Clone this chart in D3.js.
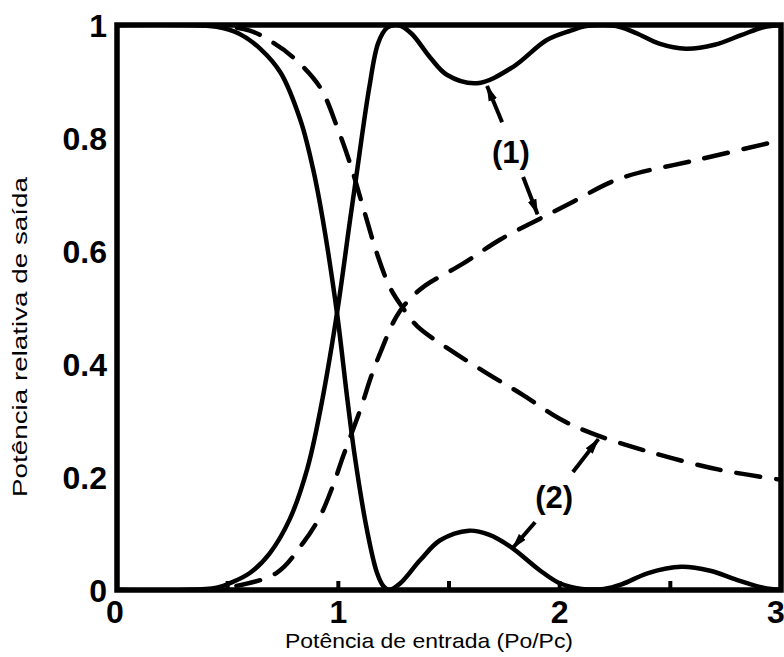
<!DOCTYPE html>
<html>
<head>
<meta charset="utf-8">
<script src="https://cdn.jsdelivr.net/npm/d3@7"></script>
<style>
  html, body { margin: 0; padding: 0; background: #fff; }
  svg { display: block; }
</style>
</head>
<body>
<svg id="chart" width="784" height="657"></svg>
<script>
// Transfer curves of the coupler: output power fraction vs. input power (Po/Pc)
// Solid: case (1); dashed: case (2)
const solidBar = [
  [0, 1], [0.3, 1], [0.45, 0.997], [0.55, 0.985], [0.65, 0.957], [0.74, 0.915],
  [0.83, 0.83], [0.886, 0.745], [0.93, 0.655], [0.994, 0.49], [1.04, 0.34],
  [1.075, 0.235], [1.13, 0.105], [1.175, 0.03], [1.205, 0.006], [1.23, 0.0],
  [1.28, 0.012], [1.37, 0.053], [1.46, 0.088], [1.59, 0.105], [1.68, 0.098],
  [1.78, 0.076], [1.91, 0.035], [2.0, 0.012], [2.1, 0.002], [2.2, 0.002],
  [2.28, 0.01], [2.4, 0.03], [2.55, 0.041], [2.68, 0.034], [2.8, 0.018],
  [2.92, 0.004], [3.0, 0.0]
];
const solidCross = [
  [0, 0], [0.3, 0], [0.45, 0.004], [0.51, 0.012], [0.6, 0.03], [0.69, 0.065],
  [0.78, 0.125], [0.86, 0.215], [0.917, 0.315], [0.994, 0.49], [1.053, 0.655],
  [1.079, 0.726], [1.14, 0.89], [1.18, 0.968], [1.22, 0.995], [1.27, 1.0],
  [1.33, 0.985], [1.414, 0.943], [1.49, 0.912], [1.627, 0.897], [1.79, 0.926],
  [1.94, 0.973], [2.05, 0.99], [2.12, 0.998], [2.2, 1.0], [2.27, 0.997],
  [2.35, 0.985], [2.45, 0.967], [2.57, 0.958], [2.7, 0.965], [2.82, 0.982],
  [2.92, 0.996], [3.0, 1.0]
];
const dashedBar = [
  [0, 1], [0.4, 1.0], [0.6, 0.99], [0.7, 0.97], [0.795, 0.943], [0.917, 0.89],
  [0.994, 0.82], [1.053, 0.755], [1.11, 0.68], [1.175, 0.595], [1.234, 0.535],
  [1.29, 0.5], [1.356, 0.467], [1.505, 0.425], [1.67, 0.384], [1.835, 0.345],
  [2.0, 0.303], [2.14, 0.278], [2.41, 0.244], [2.72, 0.213], [3.0, 0.195]
];
const dashedCross = [
  [0, 0], [0.4, 0], [0.51, 0.005], [0.72, 0.03], [0.84, 0.083], [0.917, 0.13],
  [0.976, 0.185], [1.02, 0.235], [1.1, 0.32], [1.15, 0.38], [1.2, 0.43],
  [1.25, 0.475], [1.3, 0.505], [1.383, 0.536], [1.565, 0.578], [1.73, 0.62],
  [1.9, 0.655], [2.05, 0.685], [2.27, 0.728], [2.63, 0.762], [3.0, 0.796]
];

// Axis ticks and labels
const xTicks = [0, 1, 2, 3];
const xMinorTicks = [0.5, 1, 1.5, 2, 2.5];
const yTicks = [0, 0.2, 0.4, 0.6, 0.8, 1];
const yTickLabels = ["0", "0.2", "0.4", "0.6", "0.8", "1"];

// Callouts: label position, and arrows (from -> to) in data units
const callouts = [
  { text: "(1)", at: [1.78, 0.775],
    arrows: [[[1.74, 0.828], [1.672, 0.892]], [[1.835, 0.731], [1.9, 0.665]]] },
  { text: "(2)", at: [1.975, 0.165],
    arrows: [[[2.06, 0.209], [2.175, 0.267]], [[1.889, 0.12], [1.787, 0.074]]] }
];

const svg = d3.select("#chart");
const plotLeft = 117, plotRight = 781, plotTop = 25, plotBottom = 590;

const x = d3.scaleLinear().domain([0, 3]).range([plotLeft, plotRight]);
const y = d3.scaleLinear().domain([0, 1]).range([plotBottom, plotTop]);

const line = d3.line()
  .x(d => x(d[0]))
  .y(d => y(d[1]))
  .curve(d3.curveCatmullRom.alpha(0.5));

const defs = svg.append("defs");
defs.append("clipPath").attr("id", "plot-clip")
  .append("rect")
  .attr("x", plotLeft).attr("y", plotTop)
  .attr("width", plotRight - plotLeft).attr("height", plotBottom - plotTop);

defs.append("marker")
  .attr("id", "head")
  .attr("viewBox", "0 0 16 10")
  .attr("refX", 15).attr("refY", 5)
  .attr("markerWidth", 16).attr("markerHeight", 10)
  .attr("markerUnits", "userSpaceOnUse")
  .attr("orient", "auto")
  .append("path")
  .attr("d", "M0,0.5 L16,5 L0,9.5 Z")
  .attr("fill", "#000");

// Curves
const curves = svg.append("g").attr("clip-path", "url(#plot-clip)")
  .attr("fill", "none").attr("stroke", "#000")
  .attr("stroke-width", 4.5).attr("stroke-linejoin", "round");

[solidBar, solidCross].forEach(d => {
  curves.append("path").attr("d", line(d)).attr("stroke-linecap", "round");
});
[dashedBar, dashedCross].forEach(d => {
  curves.append("path").attr("d", line(d))
    .attr("stroke-dasharray", "24,16")
    .attr("stroke-linecap", "round");
});

// Frame
svg.append("rect")
  .attr("x", plotLeft).attr("y", plotTop)
  .attr("width", plotRight - plotLeft).attr("height", plotBottom - plotTop)
  .attr("fill", "none").attr("stroke", "#000").attr("stroke-width", 5.5);

// Inward minor ticks on the bottom axis
svg.append("g").selectAll("line").data(xMinorTicks).join("line")
  .attr("x1", d => x(d)).attr("x2", d => x(d))
  .attr("y1", plotBottom).attr("y2", plotBottom - 9)
  .attr("stroke", "#000").attr("stroke-width", 4);

// Tick labels
const tickFont = "'Liberation Sans', Arial, Helvetica, sans-serif";
svg.append("g").selectAll("text").data(xTicks).join("text")
  .attr("x", d => x(d) + (d === 0 ? -2 : d === 3 ? -5 : 0))
  .attr("y", 623)
  .attr("text-anchor", "middle")
  .attr("font-family", tickFont).attr("font-weight", "bold").attr("font-size", 32)
  .text(d => d);

svg.append("g").selectAll("text").data(yTicks).join("text")
  .attr("x", 107)
  .attr("y", d => y(d) + 11.5)
  .attr("text-anchor", "end")
  .attr("font-family", tickFont).attr("font-weight", "bold").attr("font-size", 32)
  .text((d, i) => yTickLabels[i]);

// Axis titles
svg.append("text")
  .attr("x", 285).attr("y", 648)
  .attr("font-family", tickFont).attr("font-size", 21)
  .attr("textLength", 288).attr("lengthAdjust", "spacingAndGlyphs")
  .text("Potência de entrada (Po/Pc)");

svg.append("text")
  .attr("transform", "translate(27,497) rotate(-90)")
  .attr("font-family", tickFont).attr("font-size", 20)
  .attr("textLength", 320).attr("lengthAdjust", "spacingAndGlyphs")
  .text("Potência relativa de saída");

// Callouts
const notes = svg.append("g");
callouts.forEach(c => {
  notes.append("text")
    .attr("x", x(c.at[0])).attr("y", y(c.at[1]) + 11)
    .attr("text-anchor", "middle")
    .attr("font-family", tickFont).attr("font-weight", "bold").attr("font-size", 31)
    .text(c.text);
  c.arrows.forEach(a => {
    notes.append("line")
      .attr("x1", x(a[0][0])).attr("y1", y(a[0][1]))
      .attr("x2", x(a[1][0])).attr("y2", y(a[1][1]))
      .attr("stroke", "#000").attr("stroke-width", 4)
      .attr("marker-end", "url(#head)");
  });
});
</script>
</body>
</html>
